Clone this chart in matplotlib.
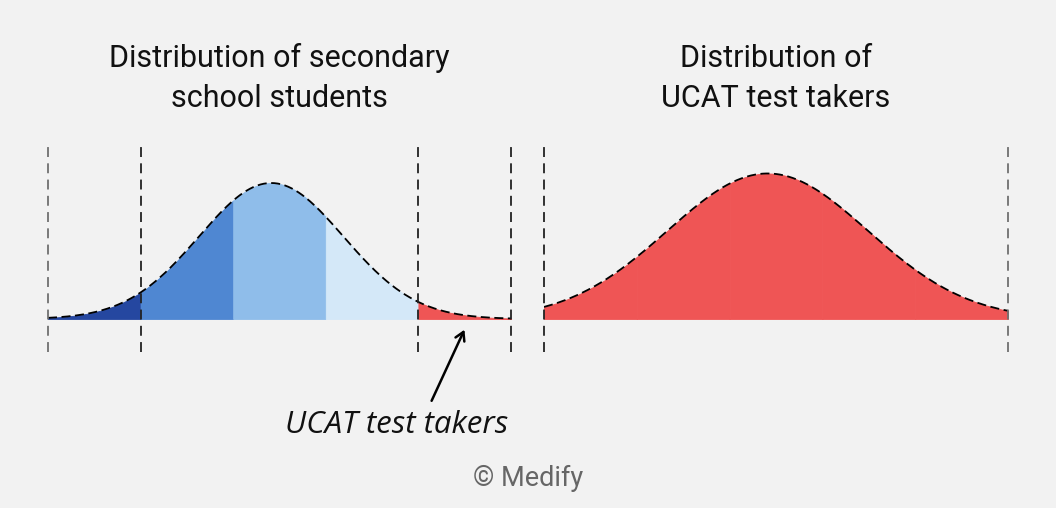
import numpy as np
import matplotlib.pyplot as plt

# band edges (in "band" units) and band colours
band_edges = [0, 1, 2, 3, 4, 5]
left_colors = ["#2547a0", "#4f87d2", "#8fbdea", "#d4e8f8", "#ef5555"]
right_colors = ["#ef5555", "#ef5555", "#ef5555", "#ef5555", "#ef5555"]

# bell curve parameters
left_mean, left_sd, left_peak = 2.41, 0.78, 1.0
right_mean, right_sd, right_peak = 2.41, 1.08, 1.07

left_guides = [0, 1, 4, 5]
left_guide_colors = ["#707070", "#222222", "#222222", "#222222"]
right_guides = [0, 5]
right_guide_colors = ["#222222", "#707070"]

left_title = "Distribution of secondary\nschool students"
right_title = "Distribution of\nUCAT test takers"
note = "UCAT test takers"
credit = "\u00a9 Medify"

BG = "#f2f2f2"
W, H = 1056, 508


def bell(x, mean, sd, peak):
    return peak * np.exp(-0.5 * ((x - mean) / sd) ** 2)


def panel(fig, x0, x1, mean, sd, peak, colors, guides, guide_colors, title):
    # axes from y=142px (top) to y=352px (bottom), baseline at 319px
    ax = fig.add_axes([x0 / W, 1 - 352 / H, (x1 - x0) / W, 210 / H])
    ax.set_facecolor("none")
    ax.axis("off")
    ax.set_xlim(band_edges[0], band_edges[-1])
    ax.set_ylim(-33 / 136, 177 / 136)

    for i, c in enumerate(colors):
        xs = np.linspace(band_edges[i], band_edges[i + 1], 80)
        ax.fill_between(xs, 0, bell(xs, mean, sd, peak), color=c, lw=0.6,
                        ec=c)

    xs = np.linspace(band_edges[0], band_edges[-1], 400)
    ax.plot(xs, bell(xs, mean, sd, peak), color="black", lw=1.3,
            ls=(0, (5, 2.5)), solid_capstyle="butt")

    for g, c in zip(guides, guide_colors):
        ax.axvline(g, color=c, lw=1.3, ls=(0, (5.5, 3.5)), clip_on=False)

    ax.text(0.5, 1.136, title, transform=ax.transAxes, ha="center",
            va="bottom", fontsize=22, family="Roboto", color="#111111",
            linespacing=1.48)
    return ax


fig = plt.figure(figsize=(W / 100, H / 100), dpi=100)
fig.patch.set_facecolor(BG)

axl = panel(fig, 48, 511, left_mean, left_sd, left_peak, left_colors,
            left_guides, left_guide_colors, left_title)
axr = panel(fig, 544, 1008, right_mean, right_sd, right_peak, right_colors,
            right_guides, right_guide_colors, right_title)

# pointer to the red tail
axl.annotate("", xy=(4.51, -0.06), xytext=(4.13, -0.62),
             arrowprops=dict(arrowstyle="->,head_length=0.6,head_width=0.35",
                             color="black", lw=1.8),
             annotation_clip=False)
axl.text(3.76, -0.78, note, ha="center", va="center", fontsize=22.5,
         family="Open Sans", style="italic", color="#111111")

fig.text(528 / W, 1 - 478 / H, credit, ha="center", va="center",
         fontsize=19.5, family="Roboto", color="#666666")

fig.savefig("out.png", dpi=100, facecolor=BG)
